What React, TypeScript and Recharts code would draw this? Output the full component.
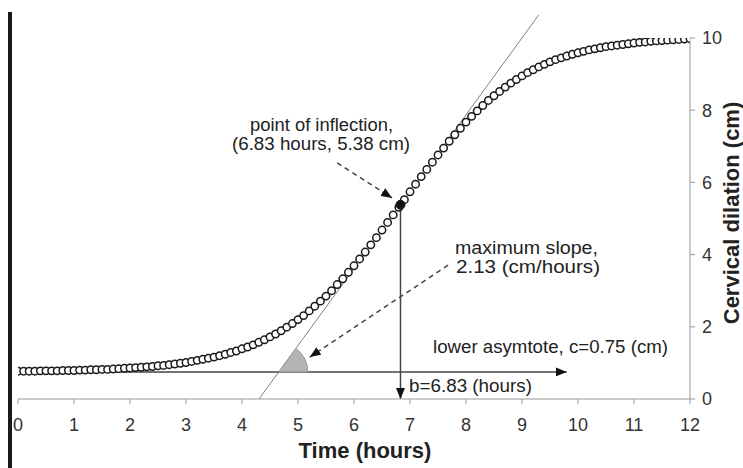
import React from 'react'
import { ComposedChart, Scatter, XAxis, YAxis, ReferenceLine, ReferenceDot } from 'recharts'

// hours, every 0.1 h
const TIME = Array.from({ length: 121 }, (_, i) => i / 10)

// cervical dilation (cm)
const DILATION = [
  0.77, 0.77, 0.77, 0.77, 0.78, 0.78, 0.78, 0.78, 0.79, 0.79,
  0.79, 0.80, 0.80, 0.81, 0.81, 0.82, 0.82, 0.83, 0.84, 0.85,
  0.86, 0.87, 0.88, 0.89, 0.90, 0.92, 0.93, 0.95, 0.97, 0.99,
  1.01, 1.04, 1.07, 1.10, 1.13, 1.16, 1.20, 1.24, 1.29, 1.33,
  1.39, 1.44, 1.50, 1.57, 1.64, 1.72, 1.80, 1.89, 1.99, 2.09,
  2.20, 2.31, 2.44, 2.57, 2.71, 2.85, 3.00, 3.17, 3.33, 3.51,
  3.69, 3.88, 4.07, 4.27, 4.47, 4.68, 4.89, 5.10, 5.31, 5.52,
  5.74, 5.95, 6.16, 6.36, 6.56, 6.76, 6.95, 7.14, 7.32, 7.50,
  7.67, 7.83, 7.98, 8.13, 8.27, 8.40, 8.52, 8.64, 8.75, 8.85,
  8.95, 9.04, 9.12, 9.20, 9.27, 9.34, 9.40, 9.45, 9.50, 9.55,
  9.59, 9.63, 9.67, 9.70, 9.73, 9.76, 9.78, 9.80, 9.82, 9.84,
  9.86, 9.88, 9.89, 9.91, 9.92, 9.93, 9.94, 9.95, 9.96, 9.97,
  9.98,
]

const X_TICKS = [0, 1, 2, 3, 4, 5, 6, 7, 8, 9, 10, 11, 12]
const Y_TICKS = [0, 2, 4, 6, 8, 10]

// model parameters shown in the annotations
const INFLECTION = { x: 6.83, y: 5.38 }
const MAX_SLOPE = 2.13
const LOWER = 0.75

const data = TIME.map((t, i) => ({ x: t, y: DILATION[i] }))

const tangentAt = (y: number) => INFLECTION.x + (y - INFLECTION.y) / MAX_SLOPE

const FONT = '"Liberation Sans", Arial, sans-serif'

const Arrow = (dash?: string, width = 1.5, color = '#333') => (p: any) => (
  <line
    x1={p.x1} y1={p.y1} x2={p.x2} y2={p.y2}
    stroke={color} strokeWidth={width}
    strokeDasharray={dash}
    markerEnd="url(#head)"
  />
)

const Circle = (p: any) => (
  <circle cx={p.cx} cy={p.cy} r={3.7} fill="#fff" stroke="#1a1a1a" strokeWidth={1.5} />
)

const Wedge = (p: any) => {
  const r = 29
  const a = (54 * Math.PI) / 180
  const { cx, cy } = p
  return (
    <path
      d={`M${cx},${cy} L${cx + r},${cy} A${r},${r} 0 0 0 ${cx + r * Math.cos(a)},${cy - r * Math.sin(a)} Z`}
      fill="#b4b4b4" stroke="#999" strokeWidth={1}
    />
  )
}

const Note = ({ x, y, w, anchor, children }: any) => (
  <text x={x} y={y} textAnchor={anchor} textLength={w} lengthAdjust="spacingAndGlyphs">{children}</text>
)

export default function App() {
  return (
    <div style={{ position: 'absolute', left: 0, top: 0, width: 743, height: 468, background: '#fff', fontFamily: FONT }}>
      <svg width={0} height={0} style={{ position: 'absolute' }}>
        <defs>
          <marker id="head" markerUnits="userSpaceOnUse" markerWidth={12} markerHeight={9} refX={11} refY={4.5} orient="auto">
            <path d="M0,0 L11,4.5 L0,9 z" fill="#111" />
          </marker>
        </defs>
      </svg>
      <div style={{ position: 'absolute', left: 8, top: 12, width: 4, height: 456, background: '#1a1a1a' }} />
      <ComposedChart width={743} height={468} data={data} margin={{ top: 38, right: 13, bottom: 39, left: 18 }}>
        <XAxis
          dataKey="x" type="number" domain={[0, 12]} ticks={X_TICKS}
          axisLine={{ stroke: '#999' }} tickLine={{ stroke: '#999' }}
          tickSize={5} tickMargin={14} height={30}
          tick={{ fill: '#333', fontSize: 18, fontFamily: FONT }}
          allowDataOverflow
        />
        <YAxis
          dataKey="y" type="number" orientation="right" domain={[0, 10]} ticks={Y_TICKS}
          axisLine={{ stroke: '#999' }} tickLine={{ stroke: '#999' }}
          tickSize={5} tickMargin={7} width={40}
          tick={{ fill: '#333', fontSize: 18, fontFamily: FONT, textAnchor: 'start' }}
          allowDataOverflow
        />
        <ReferenceDot x={tangentAt(LOWER)} y={LOWER} shape={Wedge} ifOverflow="visible" />
        <ReferenceLine
          segment={[{ x: tangentAt(0), y: 0 }, { x: tangentAt(10.64), y: 10.64 }]}
          ifOverflow="visible" stroke="#808080" strokeWidth={1}
        />
        <ReferenceLine
          segment={[{ x: 0, y: LOWER }, { x: 9.8, y: LOWER }]}
          ifOverflow="visible" shape={Arrow(undefined, 1.5, '#444')}
        />
        <ReferenceLine
          segment={[{ x: INFLECTION.x, y: INFLECTION.y }, { x: INFLECTION.x, y: 0 }]}
          ifOverflow="visible" shape={Arrow(undefined, 1.5, '#444')}
        />
        <ReferenceLine
          segment={[{ x: 5.7, y: 6.54 }, { x: 6.68, y: 5.57 }]}
          ifOverflow="visible" shape={Arrow('5 4', 1.5, '#444')}
        />
        <ReferenceLine
          segment={[{ x: 7.68, y: 3.71 }, { x: 5.21, y: 1.16 }]}
          ifOverflow="visible" shape={Arrow('5 4', 1.5, '#444')}
        />
        <Scatter data={data} dataKey="y" shape={Circle} isAnimationActive={false} />
        <ReferenceDot x={INFLECTION.x} y={INFLECTION.y} r={4.5} fill="#111" stroke="#111" ifOverflow="visible" />
      </ComposedChart>
      <svg width={743} height={468} style={{ position: 'absolute', left: 0, top: 0, pointerEvents: 'none' }}>
        <g fill="#222" fontSize={17.5} fontFamily={FONT}>
          <Note x={250} y={131} w={143}>point of inflection,</Note>
          <Note x={232} y={150} w={178}>(6.83 hours, 5.38 cm)</Note>
          <Note x={455} y={254} w={143}>maximum slope,</Note>
          <Note x={456} y={273} w={144}>2.13 (cm/hours)</Note>
          <Note x={433} y={353} w={235}>lower asymtote, c=0.75 (cm)</Note>
          <Note x={409} y={392} w={123}>b=6.83 (hours)</Note>
        </g>
        <text x={365} y={458} textAnchor="middle" fontSize={22} fontWeight="bold" fill="#222" fontFamily={FONT}>Time (hours)</text>
        <text transform="translate(739,213) rotate(-90)" textAnchor="middle" fontSize={22} fontWeight="bold" fill="#222" fontFamily={FONT}>Cervical dilation (cm)</text>
      </svg>
    </div>
  )
}
